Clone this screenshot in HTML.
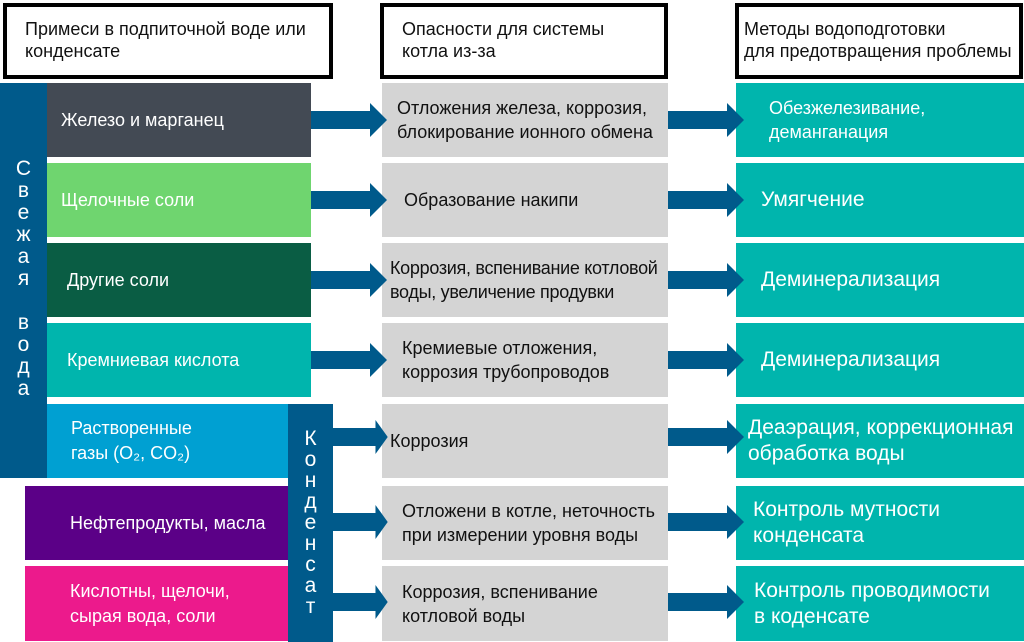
<!DOCTYPE html>
<html><head><meta charset="utf-8"><style>
body{margin:0;width:1024px;height:642px;background:#fff;position:relative;overflow:hidden;font-family:"Liberation Sans",sans-serif}
.a{position:absolute;box-sizing:border-box}
.h{border:4px solid #000;background:#fff;font-size:18px;line-height:22px;color:#111;padding:11px 0 0 18px;white-space:nowrap}
.l{color:#fff;font-size:18px;line-height:25px;display:flex;align-items:center}
.g{background:#d4d4d4;color:#111;font-size:18px;line-height:24px;display:flex;align-items:center}
.t{background:#00b5ad;color:#fff;font-size:21px;line-height:26px;display:flex;align-items:center}
.v{color:#fff;font-size:21px;text-align:center;line-height:22px}
</style></head><body>
<div class="a h" style="left:3px;top:3px;width:330px;height:76px">Примеси в подпиточной воде или<br>конденсате</div>
<div class="a h" style="left:380px;top:3px;width:288px;height:76px">Опасности для системы<br>котла из-за</div>
<div class="a h" style="left:735px;top:3px;width:288px;height:76px;padding-left:5px;overflow:hidden">Методы водоподготовки<br>для предотвращения проблемы</div>

<div class="a" style="left:0;top:83px;width:47px;height:395px;background:#005a8b"></div>
<div class="a v" style="left:0;top:158px;width:47px">С<br>в<br>е<br>ж<br>а<br>я<br><br>в<br>о<br>д<br>а</div>

<div class="a l" style="left:47px;top:83px;width:264px;height:74px;background:#434a54;padding-left:14px">Железо и марганец</div>
<div class="a l" style="left:47px;top:163px;width:264px;height:74px;background:#6fd56f;padding-left:14px">Щелочные соли</div>
<div class="a l" style="left:47px;top:243px;width:264px;height:74px;background:#0a5d44;padding-left:20px">Другие соли</div>
<div class="a l" style="left:47px;top:323px;width:264px;height:74px;background:#00b5ad;padding-left:20px">Кремниевая кислота</div>
<div class="a l" style="left:47px;top:404px;width:242px;height:74px;background:#00a0d2;padding-left:24px">Растворенные<br>газы (O₂, CO₂)</div>
<div class="a l" style="left:25px;top:486px;width:264px;height:74px;background:#5b0087;padding-left:45px">Нефтепродукты, масла</div>
<div class="a l" style="left:25px;top:566px;width:264px;height:75px;background:#ec1a8c;padding-left:45px">Кислотны, щелочи,<br>сырая вода, соли</div>

<div class="a" style="left:288px;top:404px;width:45px;height:238px;background:#005a8b"></div>
<div class="a v" style="left:288px;top:428px;width:45px;line-height:21px">К<br>о<br>н<br>д<br>е<br>н<br>с<br>а<br>т</div>

<div class="a g" style="left:382px;top:83px;width:286px;height:74px;padding-left:15px">Отложения железа, коррозия,<br>блокирование ионного обмена</div>
<div class="a g" style="left:382px;top:163px;width:286px;height:74px;padding-left:22px">Образование накипи</div>
<div class="a g" style="left:382px;top:243px;width:286px;height:74px;padding-left:8px;letter-spacing:-0.3px">Коррозия, вспенивание котловой<br>воды, увеличение продувки</div>
<div class="a g" style="left:382px;top:323px;width:286px;height:74px;padding-left:20px">Кремиевые отложения,<br>коррозия трубопроводов</div>
<div class="a g" style="left:382px;top:404px;width:286px;height:74px;padding-left:8px">Коррозия</div>
<div class="a g" style="left:382px;top:486px;width:286px;height:74px;padding-left:20px">Отложени в котле, неточность<br>при измерении уровня воды</div>
<div class="a g" style="left:382px;top:566px;width:286px;height:75px;padding-left:20px">Коррозия, вспенивание<br>котловой воды</div>

<div class="a t" style="left:736px;top:83px;width:288px;height:74px;padding-left:33px;font-size:18px;line-height:24px">Обезжелезивание,<br>деманганация</div>
<div class="a t" style="left:736px;top:163px;width:288px;height:74px;padding-left:25px">Умягчение</div>
<div class="a t" style="left:736px;top:243px;width:288px;height:74px;padding-left:25px">Деминерализация</div>
<div class="a t" style="left:736px;top:323px;width:288px;height:74px;padding-left:25px">Деминерализация</div>
<div class="a t" style="left:736px;top:404px;width:288px;height:74px;padding-left:12px">Деаэрация, коррекционная<br>обработка воды</div>
<div class="a t" style="left:736px;top:486px;width:288px;height:74px;padding-left:17px">Контроль мутности<br>конденсата</div>
<div class="a t" style="left:736px;top:566px;width:288px;height:75px;padding-left:18px">Контроль проводимости<br>в коденсате</div>

<svg class="a" style="left:0;top:0" width="1024" height="642">
<defs><g id="ar"><polygon points="0,-9 59,-9 59,-17 76,0 59,17 59,9 0,9" fill="#005a8b"/></g></defs>
<use href="#ar" x="311" y="120"/><use href="#ar" x="668" y="120"/>
<use href="#ar" x="311" y="200"/><use href="#ar" x="668" y="200"/>
<use href="#ar" x="311" y="280"/><use href="#ar" x="668" y="280"/>
<use href="#ar" x="311" y="360"/><use href="#ar" x="668" y="360"/>
<g transform="translate(333,437) scale(0.72,1)"><use href="#ar"/></g><use href="#ar" x="668" y="437"/>
<g transform="translate(333,522) scale(0.72,1)"><use href="#ar"/></g><use href="#ar" x="668" y="522"/>
<g transform="translate(333,602) scale(0.72,1)"><use href="#ar"/></g><use href="#ar" x="668" y="602"/>
</svg>
</body></html>
